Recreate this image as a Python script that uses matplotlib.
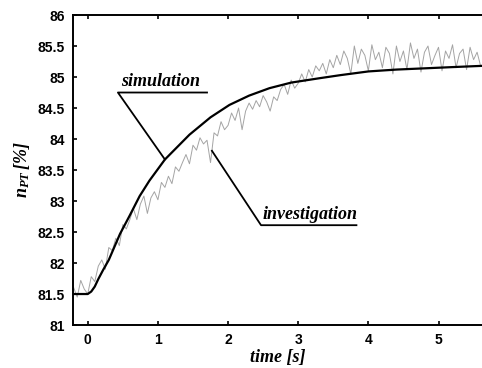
import numpy as np
import matplotlib
matplotlib.use('Agg')
import matplotlib.pyplot as plt

plt.rcParams['mathtext.fontset'] = 'custom'
plt.rcParams['mathtext.rm'] = 'Liberation Serif:bold:italic'
plt.rcParams['mathtext.it'] = 'Liberation Serif:bold:italic'

# simulation curve
sim_t = [-0.2, 0.0, 0.05, 0.1, 0.15, 0.22, 0.3, 0.46, 0.6, 0.74, 0.88, 1.1,
         1.45, 1.75, 2.02, 2.3, 2.59, 2.9, 3.3, 3.6, 4.0, 4.4, 4.8, 5.2, 5.62]
sim_v = [81.5, 81.5, 81.54, 81.62, 81.74, 81.89, 82.05, 82.47, 82.77, 83.08,
         83.33, 83.67, 84.07, 84.35, 84.55, 84.70, 84.82, 84.91, 84.98, 85.03,
         85.09, 85.12, 85.14, 85.16, 85.18]

# measured (investigation) samples, every 0.05 s from -0.2 s
meas_t0 = -0.2
meas_dt = 0.05
meas_v = [81.60, 81.45, 81.72, 81.58, 81.50, 81.78, 81.70, 81.95, 82.05, 81.90,
          82.25, 82.20, 82.40, 82.28, 82.62, 82.55, 82.70, 82.88, 82.70, 82.95,
          83.08, 82.80, 83.05, 83.15, 83.02, 83.30, 83.22, 83.40, 83.28, 83.55,
          83.48, 83.62, 83.75, 83.60, 83.90, 83.82, 84.02, 83.92, 83.98, 83.62,
          84.10, 84.05, 84.28, 84.15, 84.22, 84.42, 84.30, 84.50, 84.15, 84.45,
          84.58, 84.48, 84.62, 84.52, 84.70, 84.60, 84.45, 84.68, 84.62, 84.80,
          84.88, 84.72, 84.95, 84.82, 84.90, 85.05, 84.92, 85.12, 85.00, 85.18,
          85.10, 85.22, 85.05, 85.28, 85.15, 85.35, 85.20, 85.42, 85.30, 85.05,
          85.50, 85.22, 85.45, 85.35, 85.10, 85.52, 85.28, 85.40, 85.15, 85.48,
          85.38, 85.05, 85.50, 85.25, 85.42, 85.12, 85.55, 85.30, 85.45, 85.08,
          85.40, 85.50, 85.20, 85.35, 85.48, 85.10, 85.42, 85.30, 85.52, 85.15,
          85.38, 85.45, 85.12, 85.48, 85.28, 85.40, 85.18]
meas_t = meas_t0 + meas_dt * np.arange(len(meas_v))

x_ticks = [0, 1, 2, 3, 4, 5]
y_ticks = [81, 81.5, 82, 82.5, 83, 83.5, 84, 84.5, 85, 85.5, 86]
y_labels = ['81', '81.5', '82', '82.5', '83', '83.5', '84', '84.5', '85', '85.5', '86']

fig = plt.figure(figsize=(4.82, 3.68), dpi=100)
ax = fig.add_axes([0.1515, 0.1168, 0.8485, 0.8424])

ax.plot(meas_t, meas_v, color='#a4a4a4', lw=0.7, zorder=2)
ax.plot(sim_t, sim_v, color='black', lw=1.6, zorder=3)

ax.set_xlim(-0.21, 5.62)
ax.set_ylim(81, 86)
ax.set_xticks(x_ticks)
ax.set_yticks(y_ticks)
ax.set_yticklabels(y_labels)
ax.tick_params(direction='in', length=3, width=1.2, top=True, right=False,
               labelsize=10, pad=6)
for lab in ax.get_xticklabels() + ax.get_yticklabels():
    lab.set_fontweight('bold')
    lab.set_family('Liberation Sans')
ax.spines['right'].set_visible(False)
for s in ['left', 'bottom', 'top']:
    ax.spines[s].set_linewidth(1.4)

ax.set_xlabel('time [s]', family='Liberation Serif', style='italic',
              weight='bold', fontsize=13, labelpad=1)
ax.set_ylabel(r'$n_{PT}\,[\%]$', fontsize=13, labelpad=4)

# leader lines and labels
txt = dict(family='Liberation Serif', style='italic', weight='bold', fontsize=13)
ax.plot([1.70, 0.43, 1.10], [84.75, 84.75, 83.67], color='black', lw=1.3)
ax.text(0.47, 84.79, 'simulation', ha='left', va='bottom', **txt)
ax.plot([1.77, 2.47, 3.83], [83.81, 82.61, 82.61], color='black', lw=1.3)
ax.text(2.49, 82.65, 'investigation', ha='left', va='bottom', **txt)

fig.savefig('out.png', dpi=100)
